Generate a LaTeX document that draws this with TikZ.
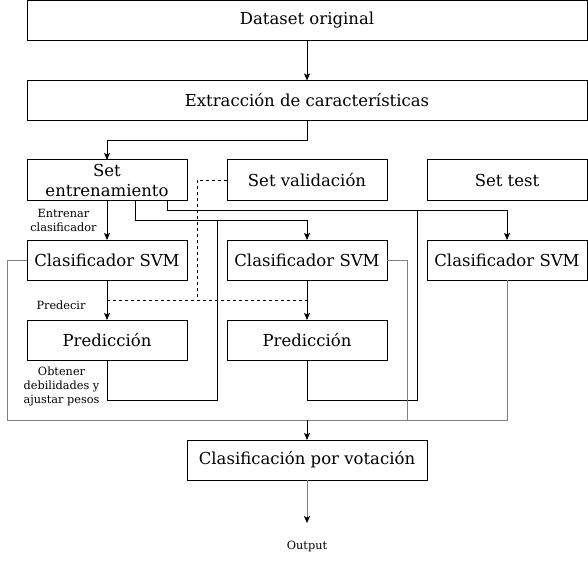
\documentclass[tikz,border=0pt]{standalone}
\usepackage{fontspec}
\setmainfont{DejaVu Serif}
\usetikzlibrary{positioning, arrows.meta}

\begin{document}
\begin{tikzpicture}[x=1pt, y=-1pt, line width=1pt, >={Stealth[length=7pt, width=6pt, inset=1.5pt]}, node distance=40pt,
  box/.style={draw, rectangle, minimum width=160pt, minimum height=40pt, inner sep=0pt, outer sep=0pt, align=center, font=\fontsize{16.5}{20}\selectfont},
  lbl/.style={inner sep=0pt, align=center, font=\fontsize{11.3}{14}\selectfont},
  feed/.style={draw=gray}]

\useasboundingbox (0,0) rectangle (588,572);

\node (dataset) [box, minimum width=560pt] at (307,20.5) {Dataset original};
\node (features) [box, minimum width=560pt, below=of dataset] {Extracción de características};
\node (train) [box] at (107,180) {Set\\entrenamiento};
\node (valid) [box, right=of train] {Set validación};
\node (test) [box, right=of valid] {Set test};
\node (svm1) [box, below=of train] {Clasificador SVM};
\node (svm2) [box, below=of valid] {Clasificador SVM};
\node (svm3) [box, below=of test] {Clasificador SVM};
\node (pred1) [box, below=of svm1] {Predicción};
\node (pred2) [box, below=of svm2] {Predicción};
\node (vote) [box, minimum width=240pt] at (307,460) {Clasificación por votación};
\node (output) [lbl] at (307,546) {Output};

\coordinate (weights2) at (217,220);
\coordinate (weights3) at (417,210);
\coordinate (predict) at (197,300);
\coordinate (collect) at (307,420);

\draw[->] (dataset) -- (features);
\draw[->] (features.south) -- ++(0,20) -| (train);
\draw[->] (train) -- node[lbl, left=10pt] {Entrenar\\clasificador} (svm1);
\draw[->] ([xshift=28pt]train.south) -- ++(0,20) -| (svm2);
\draw[->] ([xshift=60pt]train.south) -- ++(0,10) -| (svm3);
\draw[->] (svm1) -- node[lbl, pos=0.62, left=21pt] {Predecir} (pred1);
\draw[->] (svm2) -- (pred2);

% pesos para el siguiente clasificador
\draw (pred1.south) -- node[lbl, pos=0.65, left=7pt] {Obtener\\debilidades y\\ajustar pesos} ++(0,40) -| (weights2);
\draw (pred2.south) -- ++(0,40) -| (weights3);

% set de validacion
\draw[dashed] (valid) -| (predict);
\draw[dashed] (svm1 |- predict) -- (svm2 |- predict);

% votacion
\draw[feed] (svm1.west) -- ++(-20,0) |- (collect);
\draw[feed] (svm2.east) -- ++(20,0) |- (collect);
\draw[feed] (svm3) |- (collect);
\draw[->] (collect) -- (vote);
\draw[feed, -{Stealth[length=7pt, width=6pt, inset=1.5pt, black]}, shorten >=17pt] (vote) -- (output);

\end{tikzpicture}
\end{document}
